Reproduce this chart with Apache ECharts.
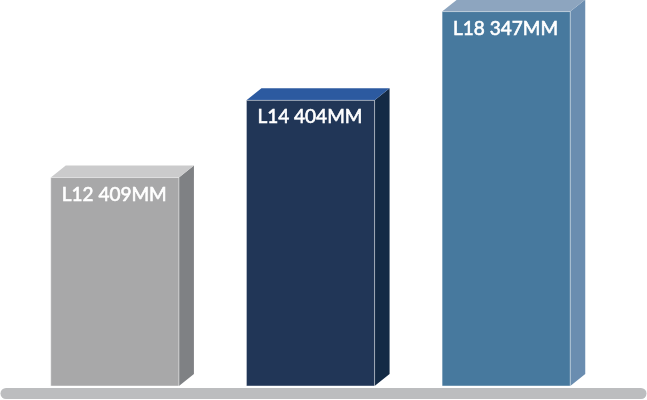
<!DOCTYPE html>
<html><head><meta charset="utf-8">
<script src="https://cdn.jsdelivr.net/npm/echarts@6/dist/echarts.min.js"></script>
<style>html,body{margin:0;padding:0;background:#fff}#c{width:647px;height:400px}</style>
</head><body><div id="c"></div>
<script>
const categories = ['L12', 'L14', 'L18'];
const labels = ['L12 409MM', 'L14 404MM', 'L18 347MM'];
const heights = [54, 74, 97];   // relative bar heights (axis max 100)
const frontColors = ['#a8a8a9', '#213657', '#47799e'];
const topColors = ['#cbcbcc', '#2c5aa0', '#8da5bf'];
const sideColors = ['#7f8184', '#142a45', '#6a8db0'];

const chart = echarts.init(document.getElementById('c'));
const DX = 15, DY = 12;
chart.setOption({
  animation: false,
  grid: { left: 17, right: 43, top: 0, bottom: 14 },
  xAxis: { type: 'category', data: categories, show: false },
  yAxis: { type: 'value', min: 0, max: 100, show: false },
  graphic: [{
    type: 'line', z: 0,
    shape: { x1: 6, y1: 393.5, x2: 641, y2: 393.5 },
    style: { stroke: '#bcbdbf', lineWidth: 11, lineCap: 'round' }
  }],
  series: [{
    type: 'custom',
    data: heights.map((h, i) => [i, h]),
    renderItem: function (params, api) {
      const i = api.value(0);
      const top = api.coord([i, api.value(1)]);
      const base = api.coord([i, 0]);
      const bw = api.size([1, 0])[0] * 0.655;
      const x0 = top[0] - bw / 2, x1 = top[0] + bw / 2;
      const yt = top[1], yb = base[1];
      return {
        type: 'group',
        children: [
          { type: 'polygon', shape: { points: [[x1, yt], [x1 + DX, yt - DY], [x1 + DX, yb - DY], [x1, yb]] },
            style: { fill: sideColors[i] } },
          { type: 'polygon', shape: { points: [[x0, yt], [x0 + DX, yt - DY], [x1 + DX, yt - DY], [x1, yt]] },
            style: { fill: topColors[i] } },
          { type: 'rect', shape: { x: x0, y: yt, width: bw, height: yb - yt },
            style: { fill: frontColors[i], stroke: 'rgba(255,255,255,0.45)', lineWidth: 1 } },
          { type: 'text', x: x0 + 11, y: yt + 17,
            style: { text: labels[i], fill: '#ffffff', fontSize: 19, fontFamily: 'Lato',
                     stroke: '#ffffff', lineWidth: 0.6,
                     verticalAlign: 'middle', align: 'left' } }
        ]
      };
    }
  }]
});
</script></body></html>
